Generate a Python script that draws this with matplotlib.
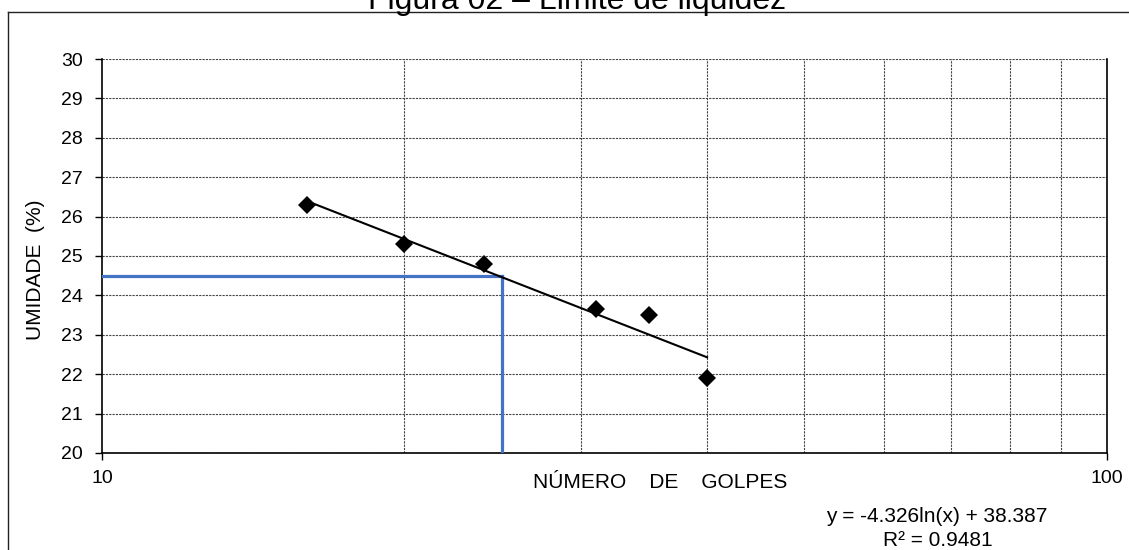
import matplotlib.pyplot as plt
from matplotlib.lines import Line2D
from matplotlib.ticker import FixedLocator, NullFormatter
import numpy as np

plt.rcParams['font.family'] = ['Liberation Sans', 'DejaVu Sans']

# data
golpes = [16, 20, 24, 31, 35, 40]
umidade = [26.3, 25.3, 24.8, 23.65, 23.5, 21.9]

# trendline from the printed equation
coef_a = -4.326
coef_b = 38.387
r2 = 0.9481

# liquid limit at 25 blows
ll_golpes = 25
ll_umidade = 24.5

fig = plt.figure(figsize=(11.29, 5.5), dpi=100)
ax = fig.add_axes([0.0903, 0.1764, 0.8902, 0.7163])

ax.set_xscale('log')
ax.set_xlim(10, 100)
ax.set_ylim(20, 30)

# grid
grid_kw = dict(color='#444444', linestyle=(0, (2, 1)), linewidth=0.8)
ax.xaxis.set_minor_locator(FixedLocator([20, 30, 40, 50, 60, 70, 80, 90]))
ax.xaxis.set_minor_formatter(NullFormatter())
ax.set_xticks([10, 100])
ax.set_xticklabels(['10', '100'])
ax.set_yticks(range(20, 31))
ax.grid(which='minor', axis='x', **grid_kw)
ax.grid(which='major', axis='y', **grid_kw)
ax.set_axisbelow(True)

ax.tick_params(axis='both', which='major', direction='out', length=5,
               width=1, labelsize=14, color='black')
ax.tick_params(axis='y', pad=9)
ax.tick_params(axis='x', pad=7)
ax.tick_params(axis='x', which='minor', length=0)

for side in ['left', 'bottom', 'right']:
    ax.spines[side].set_color('black')
    ax.spines[side].set_linewidth(1.2)
ax.spines['top'].set_visible(False)

# blue guide lines
ax.plot([10, ll_golpes], [ll_umidade, ll_umidade], color='#4472C4', lw=2.3, zorder=3)
ax.plot([ll_golpes, ll_golpes], [ll_umidade, 20], color='#4472C4', lw=2.3, zorder=3)

# trendline
xt = np.linspace(min(golpes), max(golpes), 100)
ax.plot(xt, coef_a * np.log(xt) + coef_b, color='black', lw=1.5, zorder=4)

# points
ax.plot(golpes, umidade, linestyle='none', marker='D', markersize=9,
        markerfacecolor='black', markeredgewidth=0, zorder=5)

ax.set_ylabel('UMIDADE  (%)', fontsize=15)
ax.yaxis.set_label_coords(-0.0565, 0.465)

fig.text(660 / 1129, 1 - 482 / 550, 'NÚMERO    DE    GOLPES', fontsize=15,
         ha='center', va='center')
fig.text(937 / 1129, 1 - 516 / 550, f'y = {coef_a}ln(x) + {coef_b}', fontsize=15,
         ha='center', va='center')
fig.text(938 / 1129, 1 - 540 / 550, f'R² = {r2}', fontsize=15,
         ha='center', va='center')

fig.text(577 / 1129, 1 - 9 / 550, 'Figura 02 – Limite de liquidez', fontsize=23,
         ha='center', va='baseline')

# outer chart frame
fx = 7.5 / 1129
fy = 1 - 11.7 / 550
fig.add_artist(Line2D([fx, fx], [-0.1, fy], transform=fig.transFigure,
                      color='#222222', lw=1))
fig.add_artist(Line2D([fx, 1.1], [fy, fy], transform=fig.transFigure,
                      color='#222222', lw=1))

fig.savefig('out.png', dpi=100)
